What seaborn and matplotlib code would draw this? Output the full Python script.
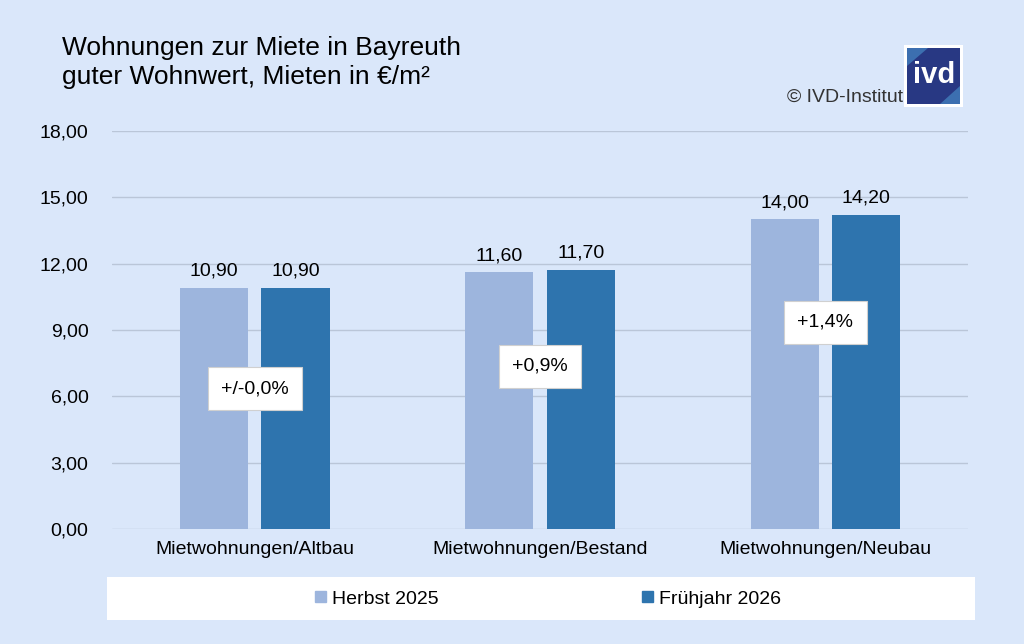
import pandas as pd
import matplotlib.pyplot as plt
import seaborn as sns
from matplotlib.patches import Rectangle, Polygon

# Daten
kategorien = ["Mietwohnungen/Altbau", "Mietwohnungen/Bestand", "Mietwohnungen/Neubau"]
herbst_2025 = [10.90, 11.60, 14.00]
fruehjahr_2026 = [10.90, 11.70, 14.20]
veraenderung = ["+/-0,0%", "+0,9%", "+1,4%"]
box_hoehe = [6.35, 7.35, 9.35]
serien = ["Herbst 2025", "Frühjahr 2026"]
yticks = [0, 3, 6, 9, 12, 15, 18]

df = pd.DataFrame({
    "Kategorie": kategorien * 2,
    "Miete": herbst_2025 + fruehjahr_2026,
    "Serie": [serien[0]] * 3 + [serien[1]] * 3,
})

bg = "#DAE7FA"
farben = {"Herbst 2025": "#9DB5DD", "Frühjahr 2026": "#2E74AE"}

sns.set_style("white")
plt.rcParams["font.family"] = ["Liberation Sans", "DejaVu Sans"]
plt.rcParams["text.color"] = "black"
plt.rcParams["xtick.color"] = "black"
plt.rcParams["ytick.color"] = "black"

fig = plt.figure(figsize=(10.24, 6.44), dpi=100, facecolor=bg)
ax = fig.add_axes([0.1094, 0.1786, 0.836, 0.618])
ax.set_facecolor(bg)

sns.barplot(data=df, x="Kategorie", y="Miete", hue="Serie", palette=farben,
            width=0.572, gap=0.166, ax=ax, legend=False, saturation=1, linewidth=0)

for cont in ax.containers:
    ax.bar_label(cont, labels=[f"{b.get_height():.2f}".replace(".", ",") for b in cont],
                 padding=6, fontsize=14)

for i, (txt, h) in enumerate(zip(veraenderung, box_hoehe)):
    ax.text(i, h, txt, ha="center", va="center", fontsize=14,
            bbox=dict(boxstyle="square,pad=0.68", facecolor="white", edgecolor="#D0D0D0", linewidth=0.8))

ax.set_ylim(0, 18)
ax.set_yticks(yticks)
ax.set_yticklabels([f"{v:.2f}".replace(".", ",") for v in yticks], fontsize=14)
ax.tick_params(axis="x", labelsize=14, length=0, pad=9)
ax.tick_params(axis="y", length=0, pad=17)
ax.set_xlabel("")
ax.set_ylabel("")
ax.yaxis.grid(True, color="#BAC6D8", linewidth=1)
ax.set_axisbelow(True)
sns.despine(ax=ax, left=True, bottom=True)

# Titel
fig.text(62 / 1024, 1 - 48 / 644, "Wohnungen zur Miete in Bayreuth", fontsize=19, va="center")
fig.text(62 / 1024, 1 - 77 / 644, "guter Wohnwert, Mieten in €/m²", fontsize=19, va="center")
fig.text(903 / 1024, 1 - 97 / 644, "© IVD-Institut", fontsize=14, ha="right", va="center", color="#333333")

# Logo
fx = lambda px: px / 1024
fy = lambda py: 1 - py / 644
fig.patches.append(Rectangle((fx(904), fy(107)), 59 / 1024, 62 / 644,
                             transform=fig.transFigure, facecolor="white", edgecolor="none"))
fig.patches.append(Rectangle((fx(907), fy(104)), 53 / 1024, 56 / 644,
                             transform=fig.transFigure, facecolor="#283883", edgecolor="none"))
fig.patches.append(Polygon([(fx(907), fy(48)), (fx(928), fy(48)), (fx(907), fy(66))], closed=True,
                           transform=fig.transFigure, facecolor="#3C6FB0", edgecolor="none"))
fig.patches.append(Polygon([(fx(960), fy(104)), (fx(960), fy(86)), (fx(940), fy(104))], closed=True,
                           transform=fig.transFigure, facecolor="#3C6FB0", edgecolor="none"))
fig.text(fx(934), fy(75), "ivd", fontsize=21, color="white", ha="center", va="center",
         fontweight="bold")

# Legende
fig.patches.append(Rectangle((fx(107), fy(620)), 868 / 1024, 43 / 644,
                             transform=fig.transFigure, facecolor="white", edgecolor="none"))
handles = [plt.Rectangle((0, 0), 1, 1, color=farben[s]) for s in serien]
fig.legend(handles, serien, loc="center", bbox_to_anchor=(fx(548), fy(599)), ncol=2,
           frameon=False, fontsize=14, handlelength=0.55, handleheight=0.55, handletextpad=0.3,
           columnspacing=10.5)

fig.savefig("out.png", dpi=100, facecolor=bg)
